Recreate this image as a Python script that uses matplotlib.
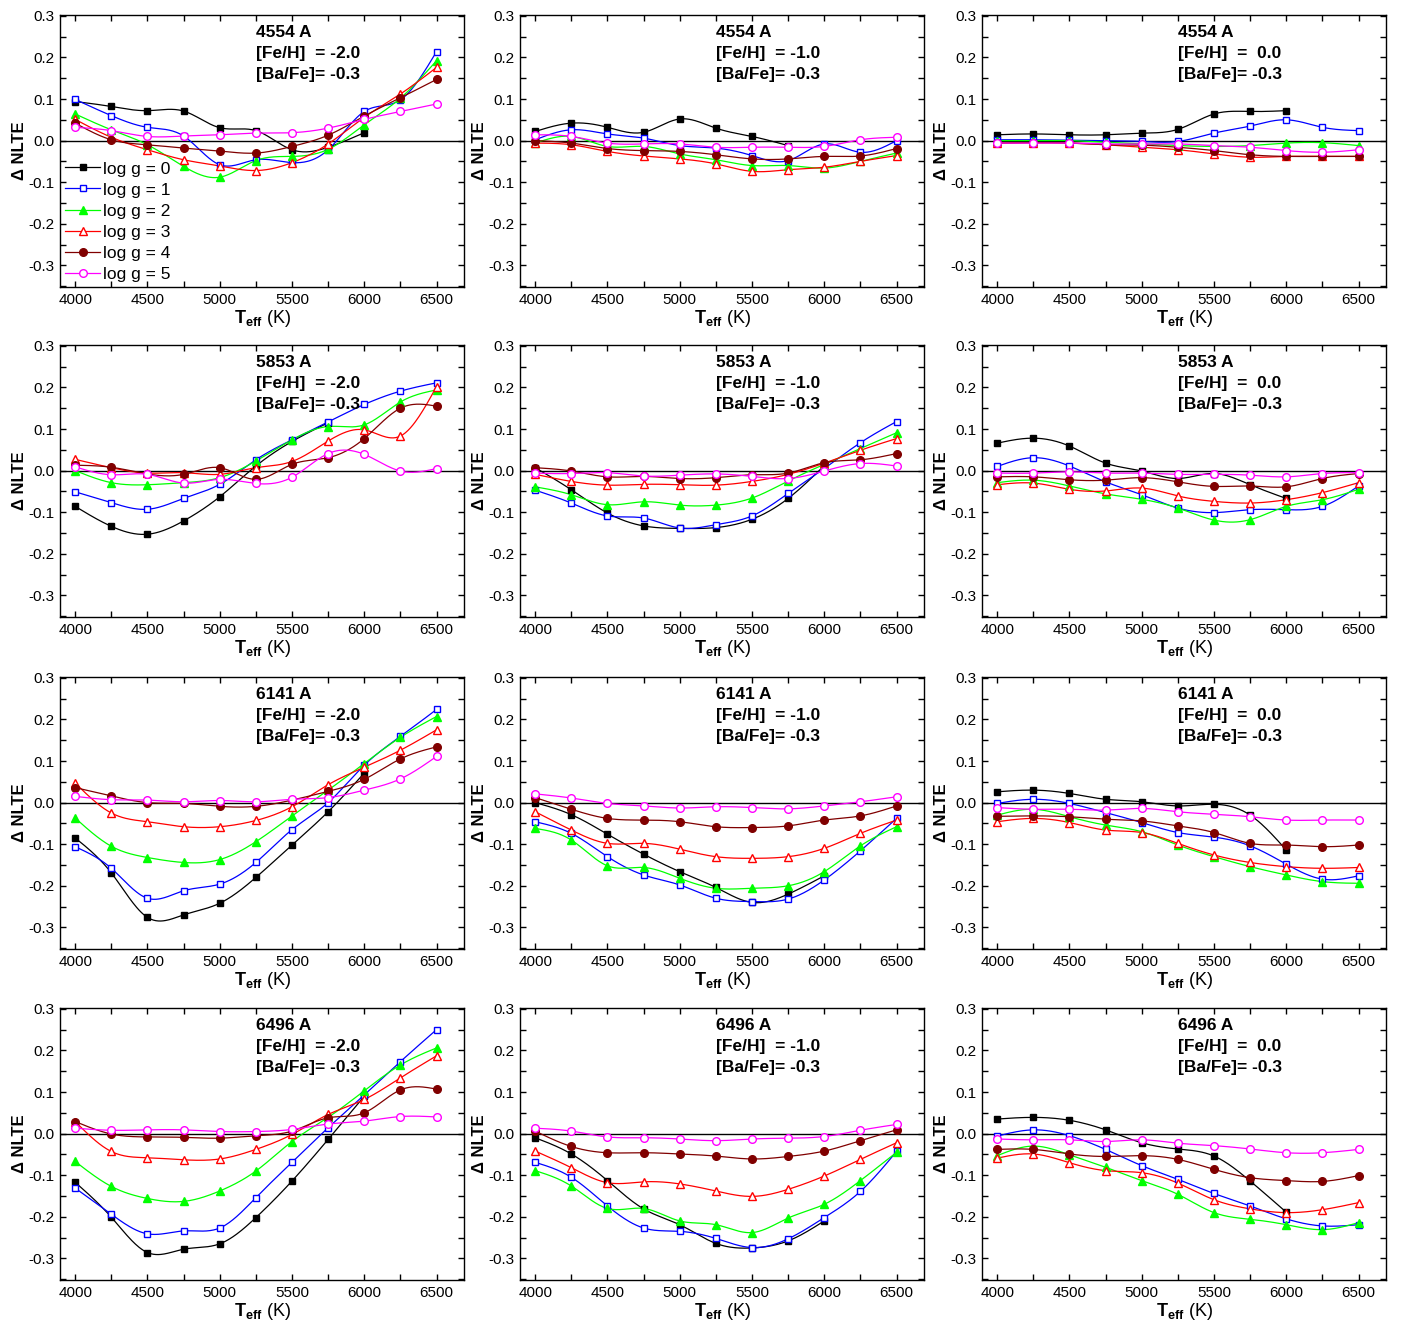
"""Delta NLTE vs Teff for the Ba II lines, grid of [Fe/H] x line, one curve per log g."""
import numpy as np
import matplotlib; matplotlib.use("Agg")
import matplotlib.pyplot as plt
from matplotlib.lines import Line2D
from matplotlib.ticker import MultipleLocator, FormatStrFormatter

plt.rcParams["font.family"] = ["Liberation Sans", "DejaVu Sans"]
plt.rcParams["axes.unicode_minus"] = False
plt.rcParams["mathtext.fontset"] = "custom"
plt.rcParams["mathtext.bf"] = "Liberation Sans:bold"
plt.rcParams["mathtext.rm"] = "Liberation Sans"

nan = np.nan
TEFF = [4000, 4250, 4500, 4750, 5000, 5250, 5500, 5750, 6000, 6250, 6500]
LOGG = [0, 1, 2, 3, 4, 5]
LINES = ["4554 A", "5853 A", "6141 A", "6496 A"]
FEH = ["-2.0", "-1.0", " 0.0"]

# rows: log g = 0 .. 5
d4554_m2 = [
    [0.094, 0.082, 0.072, 0.071, 0.031, 0.024, -0.022, -0.016, 0.019, nan, nan],
    [0.099, 0.060, 0.032, 0.011, -0.058, -0.046, -0.053, -0.022, 0.070, 0.098, 0.214],
    [0.064, 0.026, -0.010, -0.062, -0.088, -0.048, -0.038, -0.021, 0.038, 0.102, 0.192],
    [0.051, 0.008, -0.022, -0.046, -0.061, -0.072, -0.053, -0.008, 0.056, 0.112, 0.176],
    [0.042, 0.002, -0.010, -0.018, -0.025, -0.030, -0.014, 0.013, 0.059, 0.103, 0.147],
    [0.032, 0.024, 0.010, 0.011, 0.014, 0.018, 0.019, 0.030, 0.051, 0.070, 0.088],
]
d4554_m1 = [
    [0.022, 0.042, 0.032, 0.020, 0.052, 0.030, 0.010, -0.012, nan, nan, nan],
    [0.002, 0.026, 0.016, 0.006, -0.012, -0.018, -0.036, -0.048, -0.008, -0.028, 0.000],
    [-0.006, 0.010, -0.014, -0.014, -0.032, -0.046, -0.060, -0.060, -0.066, -0.050, -0.030],
    [-0.006, -0.010, -0.026, -0.037, -0.044, -0.056, -0.074, -0.070, -0.064, -0.050, -0.036],
    [0.000, -0.006, -0.019, -0.024, -0.026, -0.034, -0.044, -0.044, -0.038, -0.037, -0.019],
    [0.014, 0.010, -0.006, -0.008, -0.008, -0.016, -0.016, -0.016, -0.014, 0.002, 0.008],
]
d4554_0 = [
    [0.014, 0.016, 0.014, 0.014, 0.018, 0.027, 0.064, 0.070, 0.072, nan, nan],
    [0.002, 0.002, 0.001, 0.000, -0.002, -0.002, 0.018, 0.035, 0.050, 0.032, 0.024],
    [0.000, 0.000, 0.000, -0.004, -0.008, -0.012, -0.014, -0.012, -0.006, -0.005, -0.012],
    [-0.006, -0.005, -0.006, -0.010, -0.016, -0.022, -0.032, -0.040, -0.038, -0.038, -0.038],
    [-0.006, -0.005, -0.006, -0.010, -0.011, -0.016, -0.024, -0.034, -0.038, -0.038, -0.038],
    [-0.006, -0.006, -0.006, -0.008, -0.008, -0.008, -0.012, -0.016, -0.024, -0.028, -0.022],
]
d5853_m2 = [
    [-0.086, -0.134, -0.153, -0.121, -0.063, 0.011, 0.070, 0.115, nan, nan, nan],
    [-0.051, -0.077, -0.093, -0.067, -0.033, 0.026, 0.074, 0.117, 0.159, 0.191, 0.211],
    [0.000, -0.029, -0.034, -0.029, -0.017, 0.023, 0.074, 0.106, 0.110, 0.165, 0.194],
    [0.027, 0.007, -0.006, -0.005, -0.009, 0.007, 0.022, 0.071, 0.098, 0.083, 0.202],
    [0.013, 0.008, -0.008, -0.009, 0.007, -0.021, 0.015, 0.031, 0.077, 0.150, 0.155],
    [0.009, -0.010, -0.009, -0.030, -0.021, -0.031, -0.016, 0.041, 0.039, -0.001, 0.005],
]
d5853_m1 = [
    [0.007, -0.046, -0.102, -0.133, -0.139, -0.137, -0.117, -0.067, 0.012, nan, nan],
    [-0.047, -0.078, -0.109, -0.114, -0.138, -0.130, -0.109, -0.055, 0.005, 0.067, 0.118],
    [-0.039, -0.058, -0.082, -0.075, -0.083, -0.083, -0.066, -0.025, 0.015, 0.053, 0.091],
    [-0.009, -0.026, -0.035, -0.033, -0.034, -0.035, -0.026, -0.009, 0.018, 0.049, 0.077],
    [0.007, -0.001, -0.015, -0.014, -0.019, -0.017, -0.010, -0.006, 0.019, 0.026, 0.041],
    [-0.006, -0.007, -0.005, -0.013, -0.011, -0.008, -0.014, -0.019, -0.001, 0.017, 0.011],
]
d5853_0 = [
    [0.066, 0.078, 0.059, 0.018, -0.001, -0.019, -0.007, -0.034, -0.067, nan, nan],
    [0.010, 0.031, 0.011, -0.027, -0.058, -0.090, -0.101, -0.094, -0.094, -0.086, -0.037],
    [-0.029, -0.023, -0.037, -0.056, -0.069, -0.090, -0.119, -0.118, -0.086, -0.070, -0.045],
    [-0.034, -0.030, -0.045, -0.049, -0.042, -0.061, -0.074, -0.078, -0.070, -0.053, -0.029],
    [-0.015, -0.015, -0.022, -0.023, -0.017, -0.027, -0.038, -0.037, -0.039, -0.019, -0.007],
    [-0.006, -0.006, -0.003, -0.006, -0.006, -0.009, -0.009, -0.011, -0.015, -0.007, -0.005],
]
d6141_m2 = [
    [-0.085, -0.169, -0.276, -0.270, -0.242, -0.180, -0.102, -0.022, 0.071, nan, nan],
    [-0.106, -0.158, -0.230, -0.212, -0.196, -0.144, -0.065, 0.000, 0.090, 0.159, 0.224],
    [-0.037, -0.105, -0.132, -0.144, -0.137, -0.094, -0.032, 0.030, 0.094, 0.157, 0.207],
    [0.047, -0.025, -0.046, -0.058, -0.058, -0.043, -0.010, 0.043, 0.085, 0.126, 0.175],
    [0.036, 0.016, 0.000, -0.002, -0.009, -0.009, 0.006, 0.027, 0.056, 0.105, 0.134],
    [0.015, 0.007, 0.006, 0.002, 0.005, 0.002, 0.008, 0.012, 0.030, 0.057, 0.111],
]
d6141_m1 = [
    [0.000, -0.029, -0.076, -0.124, -0.166, -0.204, -0.240, -0.220, -0.176, nan, nan],
    [-0.046, -0.074, -0.130, -0.174, -0.198, -0.230, -0.238, -0.232, -0.186, -0.116, -0.038],
    [-0.062, -0.090, -0.152, -0.156, -0.182, -0.206, -0.206, -0.200, -0.166, -0.104, -0.058],
    [-0.022, -0.066, -0.098, -0.098, -0.112, -0.130, -0.134, -0.130, -0.110, -0.074, -0.042],
    [0.012, -0.016, -0.038, -0.042, -0.046, -0.058, -0.060, -0.056, -0.042, -0.032, -0.008],
    [0.021, 0.011, -0.002, -0.008, -0.013, -0.010, -0.012, -0.015, -0.008, 0.002, 0.014],
]
d6141_0 = [
    [0.026, 0.030, 0.022, 0.008, 0.002, -0.008, -0.004, -0.030, -0.114, nan, nan],
    [-0.002, 0.008, -0.002, -0.024, -0.048, -0.072, -0.083, -0.104, -0.148, -0.184, -0.176],
    [-0.030, -0.016, -0.034, -0.054, -0.070, -0.102, -0.130, -0.154, -0.174, -0.190, -0.194],
    [-0.046, -0.038, -0.048, -0.066, -0.072, -0.098, -0.126, -0.144, -0.154, -0.158, -0.156],
    [-0.033, -0.032, -0.034, -0.040, -0.044, -0.056, -0.072, -0.098, -0.102, -0.106, -0.102],
    [-0.012, -0.016, -0.016, -0.018, -0.014, -0.022, -0.028, -0.034, -0.042, -0.042, -0.042],
]
d6496_m2 = [
    [-0.117, -0.201, -0.286, -0.278, -0.265, -0.202, -0.114, -0.014, 0.090, nan, nan],
    [-0.131, -0.194, -0.241, -0.234, -0.227, -0.154, -0.069, 0.014, 0.093, 0.173, 0.250],
    [-0.067, -0.127, -0.156, -0.163, -0.138, -0.090, -0.019, 0.039, 0.103, 0.165, 0.206],
    [0.029, -0.043, -0.058, -0.063, -0.061, -0.038, -0.002, 0.046, 0.082, 0.134, 0.187],
    [0.029, -0.001, -0.008, -0.009, -0.011, -0.005, 0.006, 0.038, 0.050, 0.105, 0.107],
    [0.013, 0.008, 0.009, 0.009, 0.005, 0.005, 0.010, 0.023, 0.030, 0.041, 0.040],
]
d6496_m1 = [
    [-0.010, -0.049, -0.113, -0.181, -0.219, -0.264, -0.275, -0.258, -0.210, nan, nan],
    [-0.069, -0.105, -0.174, -0.227, -0.235, -0.252, -0.274, -0.253, -0.202, -0.139, -0.043],
    [-0.089, -0.126, -0.180, -0.180, -0.210, -0.219, -0.238, -0.203, -0.170, -0.113, -0.045],
    [-0.042, -0.082, -0.118, -0.116, -0.121, -0.138, -0.151, -0.134, -0.102, -0.062, -0.022],
    [0.006, -0.031, -0.046, -0.046, -0.049, -0.054, -0.061, -0.055, -0.042, -0.017, 0.009],
    [0.013, 0.006, -0.008, -0.010, -0.013, -0.017, -0.013, -0.011, -0.007, 0.008, 0.022],
]
d6496_0 = [
    [0.035, 0.039, 0.032, 0.009, -0.022, -0.037, -0.054, -0.114, -0.189, nan, nan],
    [-0.006, 0.009, -0.005, -0.038, -0.077, -0.110, -0.144, -0.174, -0.205, -0.222, -0.219],
    [-0.053, -0.030, -0.051, -0.081, -0.113, -0.146, -0.190, -0.206, -0.219, -0.231, -0.214],
    [-0.059, -0.049, -0.070, -0.089, -0.094, -0.119, -0.159, -0.181, -0.190, -0.183, -0.166],
    [-0.038, -0.038, -0.049, -0.055, -0.053, -0.062, -0.086, -0.106, -0.113, -0.115, -0.101],
    [-0.013, -0.015, -0.015, -0.019, -0.015, -0.023, -0.029, -0.037, -0.046, -0.046, -0.038],
]

GRID = [[d4554_m2, d4554_m1, d4554_0],
        [d5853_m2, d5853_m1, d5853_0],
        [d6141_m2, d6141_m1, d6141_0],
        [d6496_m2, d6496_m1, d6496_0]]

STYLES = [("#000000", "s", True), ("#0000ff", "s", False), ("#00ff00", "^", True),
          ("#ff0000", "^", False), ("#800000", "o", True), ("#ff00ff", "o", False)]

W, H = 1412, 1326
COL_X = [60, 520, 982]
ROW_Y = [15, 345, 677, 1008]
AX_W, AX_H = 404, 272


def spline(x, y, n=30):
    """natural cubic spline through the points, n samples per interval"""
    x = np.asarray(x, float); y = np.asarray(y, float)
    k = len(x)
    if k < 3:
        return x, y
    h = np.diff(x)
    A = np.zeros((k, k)); b = np.zeros(k)
    A[0, 0] = A[-1, -1] = 1.0
    for i in range(1, k - 1):
        A[i, i - 1] = h[i - 1]; A[i, i] = 2 * (h[i - 1] + h[i]); A[i, i + 1] = h[i]
        b[i] = 6 * ((y[i + 1] - y[i]) / h[i] - (y[i] - y[i - 1]) / h[i - 1])
    M = np.linalg.solve(A, b)
    xs, ys = [], []
    for i in range(k - 1):
        t = np.linspace(x[i], x[i + 1], n, endpoint=(i == k - 2))
        a, c = x[i + 1] - t, t - x[i]
        s = (M[i] * a**3 + M[i + 1] * c**3) / (6 * h[i]) \
            + (y[i] / h[i] - M[i] * h[i] / 6) * a + (y[i + 1] / h[i] - M[i + 1] * h[i] / 6) * c
        xs.append(t); ys.append(s)
    return np.concatenate(xs), np.concatenate(ys)


def marker_kw(col, mk, filled):
    return dict(marker=mk, ms=5.5 if mk != "s" else 5, mec=col,
                mfc=col if filled else "white", mew=1.0)


def main():
    fig = plt.figure(figsize=(W / 100, H / 100), dpi=100)
    x = np.array(TEFF, float)
    handles = [Line2D([], [], color=col, lw=0.9, label=f"log g = {g}", **marker_kw(col, mk, f))
               for g, (col, mk, f) in zip(LOGG, STYLES)]
    for r in range(4):
        for c in range(3):
            ax = fig.add_axes([COL_X[c] / W, 1 - (ROW_Y[r] + AX_H) / H, AX_W / W, AX_H / H])
            ax.axhline(0, color="k", lw=1.0, zorder=1)
            for g, (col, mk, filled) in enumerate(STYLES):
                y = np.array(GRID[r][c][g], float)
                ok = ~np.isnan(y)
                sx, sy = spline(x[ok], y[ok])
                ax.plot(sx, sy, color=col, lw=0.9, zorder=2)
                ax.plot(x[ok], y[ok], ls="none", zorder=3, **marker_kw(col, mk, filled))
            ax.set_xlim(3895, 6690); ax.set_ylim(-0.352, 0.302)
            ax.xaxis.set_major_locator(MultipleLocator(500))
            ax.xaxis.set_minor_locator(MultipleLocator(250))
            ax.yaxis.set_major_locator(MultipleLocator(0.1))
            ax.yaxis.set_minor_locator(MultipleLocator(0.05))
            ax.yaxis.set_major_formatter(FormatStrFormatter("%.1f"))
            ax.tick_params(which="both", direction="in", top=True, right=True,
                           length=4, width=1, labelsize=11, pad=4)
            for sp in ax.spines.values():
                sp.set_linewidth(1.0)
            ax.set_xlabel(r"$\mathbf{T_{eff}}$ (K)", fontsize=13, labelpad=1)
            ax.set_ylabel("Δ NLTE", fontsize=12, fontweight="bold", labelpad=1)
            ax.text(0.485, 0.965, f"{LINES[r]}\n[Fe/H]  = {FEH[c]}\n[Ba/Fe]= -0.3",
                    transform=ax.transAxes, ha="left", va="top", fontsize=12.5,
                    fontweight="bold", linespacing=1.5)
            if r == 0 and c == 0:
                ax.legend(handles=handles, loc="lower left", frameon=False, fontsize=12.5,
                          handlelength=2.0, handletextpad=0.15, labelspacing=0.34,
                          borderaxespad=0.1, borderpad=0.2)
    fig.savefig("out.png", dpi=100)


if __name__ == "__main__":
    main()
